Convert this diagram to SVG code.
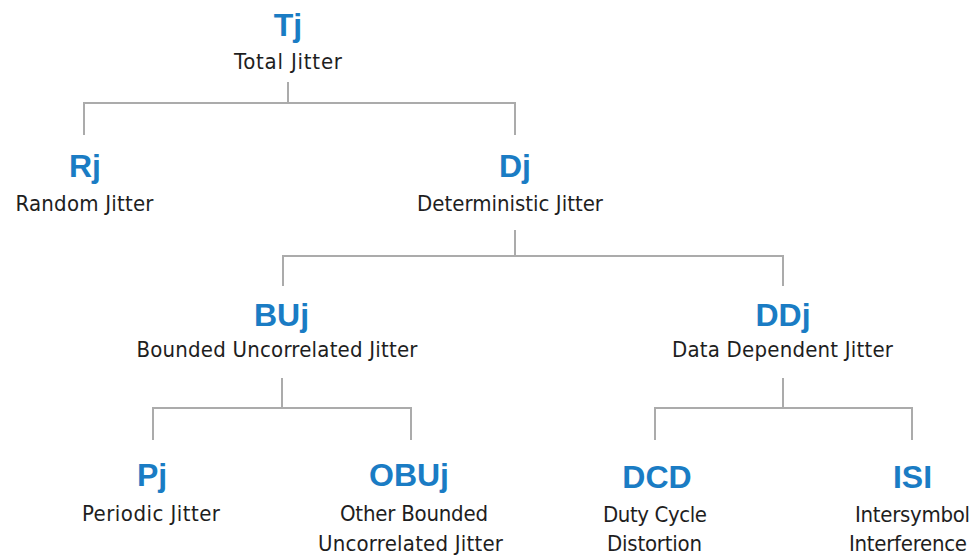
<svg xmlns="http://www.w3.org/2000/svg" width="980" height="556" viewBox="0 0 980 556">
<style>
.t{font-family:"Liberation Sans",Arial,sans-serif;font-weight:bold;font-size:32px;fill:#1a7cc4;text-anchor:middle}
.s{font-family:"DejaVu Sans Condensed",serif;font-size:22px;fill:#1e1e1e;text-anchor:middle}
.c{fill:none;stroke:#ababab;stroke-width:2}
</style>
<rect width="980" height="556" fill="#ffffff"/>
<g id="connectors">
<path class="c" d="M288 82V103M84 135V103H515V135"/>
<path class="c" d="M515 230V256M283 286V256H783V286"/>
<path class="c" d="M282 378V408M153 440V408H411V440"/>
<path class="c" d="M783 378V408M655 440V408H912V440"/>
</g>
<g id="Tj"><text class="t" x="288" y="36">Tj</text><text class="s" x="288" y="69" textLength="108" lengthAdjust="spacing">Total Jitter</text></g>
<g id="Rj"><text class="t" x="85" y="177">Rj</text><text class="s" x="84.5" y="211" textLength="138" lengthAdjust="spacing">Random Jitter</text></g>
<g id="Dj"><text class="t" x="515" y="177">Dj</text><text class="s" x="510" y="211" textLength="186" lengthAdjust="spacing">Deterministic Jitter</text></g>
<g id="BUj"><text class="t" x="281.5" y="326">BUj</text><text class="s" x="277" y="357" textLength="281" lengthAdjust="spacing">Bounded Uncorrelated Jitter</text></g>
<g id="DDj"><text class="t" x="783" y="326">DDj</text><text class="s" x="782.5" y="357" textLength="221" lengthAdjust="spacing">Data Dependent Jitter</text></g>
<g id="Pj"><text class="t" x="152" y="486">Pj</text><text class="s" x="151" y="521" textLength="138" lengthAdjust="spacing">Periodic Jitter</text></g>
<g id="OBUj"><text class="t" x="409" y="486">OBUj</text><text class="s" x="414" y="521" textLength="148" lengthAdjust="spacing">Other Bounded</text><text class="s" x="410.5" y="551" textLength="185" lengthAdjust="spacing">Uncorrelated Jitter</text></g>
<g id="DCD"><text class="t" x="657" y="488">DCD</text><text class="s" x="655" y="522" textLength="104" lengthAdjust="spacing">Duty Cycle</text><text class="s" x="654.5" y="551" textLength="95" lengthAdjust="spacing">Distortion</text></g>
<g id="ISI"><text class="t" x="912.5" y="488">ISI</text><text class="s" x="912.5" y="522" textLength="115" lengthAdjust="spacing">Intersymbol</text><text class="s" x="908" y="551" textLength="118" lengthAdjust="spacing">Interference</text></g>
</svg>
